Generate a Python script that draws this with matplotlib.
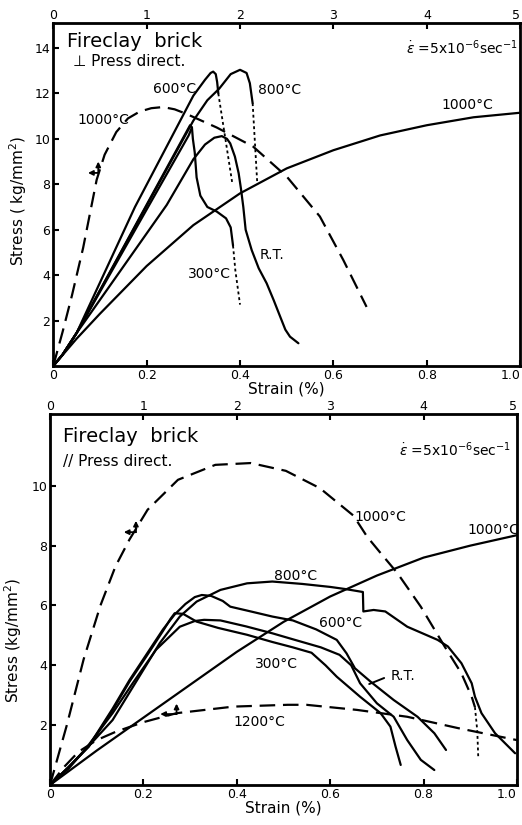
import matplotlib
matplotlib.use("Agg")
import matplotlib.pyplot as plt

# ---------------- TOP PANEL (perpendicular to press direction) ----------------
# strain in % (bottom axis), stress in kg/mm2
t600_x = [0, 0.02, 0.05, 0.175, 0.30, 0.325, 0.337, 0.3425, 0.348, 0.351, 0.3535]
t600_y = [0, 0.5, 1.45, 7.0, 11.9, 12.6, 12.9, 12.96, 12.85, 12.5, 12.0]
t600_dot_x = [0.3535, 0.383]
t600_dot_y = [12.0, 8.1]

t800_x = [0, 0.02, 0.05, 0.30, 0.33, 0.355, 0.38, 0.40, 0.414, 0.421, 0.425, 0.427]
t800_y = [0, 0.5, 1.45, 10.8, 11.7, 12.2, 12.85, 13.04, 12.9, 12.45, 11.86, 11.57]
t800_dot_x = [0.427, 0.437]
t800_dot_y = [11.57, 8.0]

t300_x = [0, 0.02, 0.05, 0.285, 0.293, 0.297, 0.299, 0.303, 0.307, 0.315, 0.33, 0.35, 0.37, 0.38, 0.385]
t300_y = [0, 0.5, 1.45, 10.3, 10.6, 10.5, 10.0, 9.4, 8.3, 7.5, 7.0, 6.8, 6.5, 6.1, 5.3]
t300_dot_x = [0.385, 0.39, 0.396, 0.40]
t300_dot_y = [5.3, 4.2, 3.3, 2.7]
t300b_x = [0, 0.02, 0.05, 0.29, 0.297]
t300b_y = [0, 0.5, 1.45, 10.15, 10.5]

trt_x = [0, 0.02, 0.05, 0.243, 0.30, 0.325, 0.345, 0.361, 0.372, 0.379, 0.389, 0.397, 0.402,
         0.407, 0.412, 0.425, 0.44, 0.457, 0.472, 0.486, 0.497, 0.507, 0.525]
trt_y = [0, 0.5, 1.45, 7.09, 9.1, 9.75, 10.05, 10.12, 10.0, 9.8, 9.22, 8.49, 7.8,
         7.0, 6.0, 5.1, 4.3, 3.64, 2.9, 2.17, 1.6, 1.29, 1.0]

t1000_x = [0, 0.05, 0.1, 0.2, 0.3, 0.4, 0.5, 0.6, 0.7, 0.8, 0.9, 1.0]
t1000_y = [0, 1.2, 2.3, 4.4, 6.2, 7.6, 8.7, 9.5, 10.15, 10.6, 10.95, 11.15]

# dashed 1000°C curve, strain on the upper scale (0-5 %)
t1000d_x = [0, 0.1, 0.2, 0.32, 0.465, 0.55, 0.675, 0.8, 0.925, 1.05, 1.175, 1.3, 1.425,
            1.75, 2.14, 2.5, 2.855, 3.105, 3.355]
t1000d_y = [0, 1.5, 3.1, 5.2, 8.2, 9.3, 10.3, 10.9, 11.2, 11.35, 11.4, 11.3, 11.1,
            10.5, 9.66, 8.34, 6.58, 4.67, 2.6]

# ---------------- BOTTOM PANEL (parallel to press direction) ----------------
b600_x = [0, 0.04, 0.083, 0.134, 0.17, 0.206, 0.242, 0.267, 0.29, 0.31, 0.325, 0.345, 0.37,
          0.386, 0.43, 0.476, 0.52, 0.57, 0.614, 0.635, 0.653, 0.686, 0.736, 0.787, 0.823, 0.848]
b600_y = [0, 0.6, 1.3, 2.55, 3.5, 4.35, 5.2, 5.7, 6.05, 6.28, 6.35, 6.32, 6.15,
          5.96, 5.8, 5.63, 5.5, 5.2, 4.85, 4.4, 3.9, 3.46, 2.84, 2.28, 1.73, 1.17]

b300_x = [0, 0.04, 0.083, 0.134, 0.17, 0.206, 0.242, 0.258, 0.267, 0.285, 0.314, 0.36, 0.422,
          0.476, 0.52, 0.56, 0.59, 0.614, 0.664, 0.708, 0.729, 0.74, 0.751]
b300_y = [0, 0.6, 1.28, 2.5, 3.45, 4.29, 5.15, 5.55, 5.74, 5.72, 5.46, 5.25, 5.02,
          4.78, 4.6, 4.42, 4.0, 3.62, 2.95, 2.4, 1.95, 1.28, 0.67]

brt_x = [0, 0.04, 0.076, 0.134, 0.177, 0.227, 0.278, 0.31, 0.33, 0.365, 0.42, 0.476, 0.52,
         0.58, 0.62, 0.645, 0.664, 0.70, 0.736, 0.765, 0.794, 0.823]
brt_y = [0, 0.55, 1.2, 2.4, 3.4, 4.52, 5.29, 5.48, 5.52, 5.5, 5.3, 5.07, 4.87,
         4.6, 4.35, 4.0, 3.4, 2.73, 2.28, 1.5, 0.84, 0.5]

b800_x = [0, 0.04, 0.08, 0.134, 0.191, 0.235, 0.278, 0.314, 0.365, 0.422, 0.476, 0.54, 0.6,
          0.632, 0.67, 0.671, 0.693, 0.718, 0.765, 0.83, 0.852, 0.881, 0.903, 0.91, 0.924,
          0.953, 0.996]
b800_y = [0, 0.6, 1.25, 2.17, 3.62, 4.74, 5.63, 6.13, 6.52, 6.74, 6.8, 6.72, 6.62,
          6.55, 6.45, 5.8, 5.85, 5.8, 5.29, 4.85, 4.63, 4.07, 3.4, 2.95, 2.4,
          1.73, 1.06]

b1000_x = [0, 0.1, 0.2, 0.3, 0.4, 0.5, 0.6, 0.7, 0.8, 0.9, 1.0]
b1000_y = [0, 1.15, 2.25, 3.35, 4.45, 5.45, 6.3, 7.0, 7.6, 8.0, 8.35]

# dashed curves on the upper strain scale (0-5 %)
b1000d_x = [0, 0.18, 0.36, 0.54, 0.7, 0.85, 1.045, 1.37, 1.77, 2.15, 2.525, 2.89, 3.25,
            3.395, 3.54, 3.72, 3.97, 4.225, 4.405, 4.515, 4.55]
b1000d_y = [0, 2.0, 4.2, 6.0, 7.3, 8.2, 9.2, 10.2, 10.7, 10.76, 10.5, 9.92, 9.0,
            8.3, 7.75, 7.08, 5.96, 4.63, 3.73, 2.95, 2.6]
b1000d_dot_x = [4.55, 4.575, 4.585]
b1000d_dot_y = [2.6, 1.8, 0.95]

b1200_x = [0, 0.15, 0.305, 0.5, 0.705, 1.0, 1.355, 1.965, 2.545, 2.745, 3.285, 3.825, 4.37, 5.0]
b1200_y = [0, 0.6, 1.11, 1.5, 1.78, 2.1, 2.4, 2.62, 2.68, 2.68, 2.51, 2.28, 1.9, 1.5]

xticks = [0, 0.2, 0.4, 0.6, 0.8, 1.0]
xticklabels = ["0", "0.2", "0.4", "0.6", "0.8", "1.0"]
top_ticks = [0, 1, 2, 3, 4, 5]
yticks_top = [2, 4, 6, 8, 10, 12, 14]
yticks_bot = [2, 4, 6, 8, 10]

LW = 1.6
DASH = (0, (7, 3.5))
DOT = (0, (1.6, 1.6))

fig = plt.figure(figsize=(5.22, 8.25), dpi=100)
ax1 = fig.add_axes([0.102, 0.5564, 0.8946, 0.4157])
ax2 = fig.add_axes([0.0958, 0.0485, 0.8946, 0.4497])


def style(ax, ylim, yticks):
    ax.set_xlim(0, 1.0)
    ax.set_ylim(*ylim)
    ax.set_xticks(xticks)
    ax.set_xticklabels(xticklabels)
    ax.set_yticks(yticks)
    ax.tick_params(direction='in', length=4, width=1.5, labelsize=9, pad=2)
    ax.get_xticklabels()[-1].set_horizontalalignment('right')
    for s in ax.spines.values():
        s.set_linewidth(2)
    tw = ax.twiny()
    tw.set_xlim(0, 5)
    tw.set_xticks(top_ticks)
    tw.tick_params(direction='in', length=4, width=1.5, labelsize=9, pad=1)
    tw.get_xticklabels()[-1].set_horizontalalignment('right')
    return tw


tw1 = style(ax1, (0, 15.1), yticks_top)
tw2 = style(ax2, (0, 12.4), yticks_bot)

kw = dict(color='k', lw=LW, solid_capstyle='round')
# top
ax1.plot(t600_x, t600_y, **kw)
ax1.plot(t600_dot_x, t600_dot_y, color='k', lw=1.3, ls=DOT)
ax1.plot(t800_x, t800_y, **kw)
ax1.plot(t800_dot_x, t800_dot_y, color='k', lw=1.3, ls=DOT)
ax1.plot(t300_x, t300_y, **kw)
ax1.plot(t300b_x, t300b_y, **kw)
ax1.plot(t300_dot_x, t300_dot_y, color='k', lw=1.3, ls=DOT)
ax1.plot(trt_x, trt_y, **kw)
ax1.plot(t1000_x, t1000_y, **kw)
tw1.plot(t1000d_x, t1000d_y, color='k', lw=LW, ls=DASH)

# bottom
ax2.plot(b600_x, b600_y, **kw)
ax2.plot(b300_x, b300_y, **kw)
ax2.plot(brt_x, brt_y, **kw)
ax2.plot(b800_x, b800_y, **kw)
ax2.plot(b1000_x, b1000_y, **kw)
tw2.plot(b1000d_x, b1000d_y, color='k', lw=LW, ls=DASH)
tw2.plot(b1000d_dot_x, b1000d_dot_y, color='k', lw=1.3, ls=DOT)
tw2.plot(b1200_x, b1200_y, color='k', lw=LW, ls=DASH)

# axis labels
ax1.set_xlabel('Strain (%)', fontsize=11, labelpad=0)
ax1.set_ylabel('Stress ( kg/mm$^2$)', fontsize=11)
ax1.yaxis.set_label_coords(-0.052, 0.48)
ax2.set_xlabel('Strain (%)', fontsize=11, labelpad=0)
ax2.set_ylabel('Stress (kg/mm$^2$)', fontsize=11)
ax2.yaxis.set_label_coords(-0.055, 0.39)

# texts top
ax1.text(0.029, 14.27, 'Fireclay  brick', fontsize=14, ha='left', va='center')
ax1.text(0.042, 13.39, '\u22a5 Press direct.', fontsize=11, ha='left', va='center')
ax1.text(0.996, 14.0, r'$\dot{\varepsilon}$ =5x10$^{-6}$sec$^{-1}$', fontsize=10,
         ha='right', va='center', transform=ax1.get_yaxis_transform())
tsz = 10
ax1.text(0.26, 12.2, '600°C', fontsize=tsz, ha='center', va='center')
ax1.text(0.4836, 12.16, '800°C', fontsize=tsz, ha='center', va='center')
ax1.text(0.1065, 10.84, '1000°C', fontsize=tsz, ha='center', va='center')
ax1.text(0.8875, 11.5, '1000°C', fontsize=tsz, ha='center', va='center')
ax1.text(0.4675, 4.89, 'R.T.', fontsize=tsz, ha='center', va='center')
ax1.text(0.3336, 4.05, '300°C', fontsize=tsz, ha='center', va='center')

# texts bottom
ax2.text(0.028, 11.64, 'Fireclay  brick', fontsize=14, ha='left', va='center')
ax2.text(0.028, 10.8, '// Press direct.', fontsize=11, ha='left', va='center')
ax2.text(0.988, 11.2, r'$\dot{\varepsilon}$ =5x10$^{-6}$sec$^{-1}$', fontsize=10,
         ha='right', va='center', transform=ax2.get_yaxis_transform())
ax2.text(0.707, 8.96, '1000°C', fontsize=tsz, ha='center', va='center')
ax2.text(0.949, 8.53, '1000°C', fontsize=tsz, ha='center', va='center')
ax2.text(0.525, 6.99, '800°C', fontsize=tsz, ha='center', va='center')
ax2.text(0.623, 5.42, '600°C', fontsize=tsz, ha='center', va='center')
ax2.text(0.485, 4.05, '300°C', fontsize=tsz, ha='center', va='center')
ax2.text(0.756, 3.65, 'R.T.', fontsize=tsz, ha='center', va='center')
ax2.text(0.449, 2.11, '1200°C', fontsize=tsz, ha='center', va='center')
ax2.annotate('', xy=(0.678, 3.34), xytext=(0.721, 3.61),
             arrowprops=dict(arrowstyle='-', lw=1.4, color='k'))


# "upper scale" markers
def marker(ax, cx, cy, dx, dy):
    ap = dict(arrowstyle='-|>', lw=1.3, color='k', mutation_scale=7, shrinkA=0, shrinkB=0)
    ax.annotate('', xy=(cx - dx, cy), xytext=(cx, cy), arrowprops=ap)
    ax.annotate('', xy=(cx, cy + dy), xytext=(cx, cy), arrowprops=ap)


marker(ax1, 0.0964, 8.5, 0.022, 0.5)
marker(ax2, 0.184, 8.45, 0.026, 0.38)
marker(ax2, 0.271, 2.37, 0.035, 0.35)

fig.savefig('out.png', dpi=100)
